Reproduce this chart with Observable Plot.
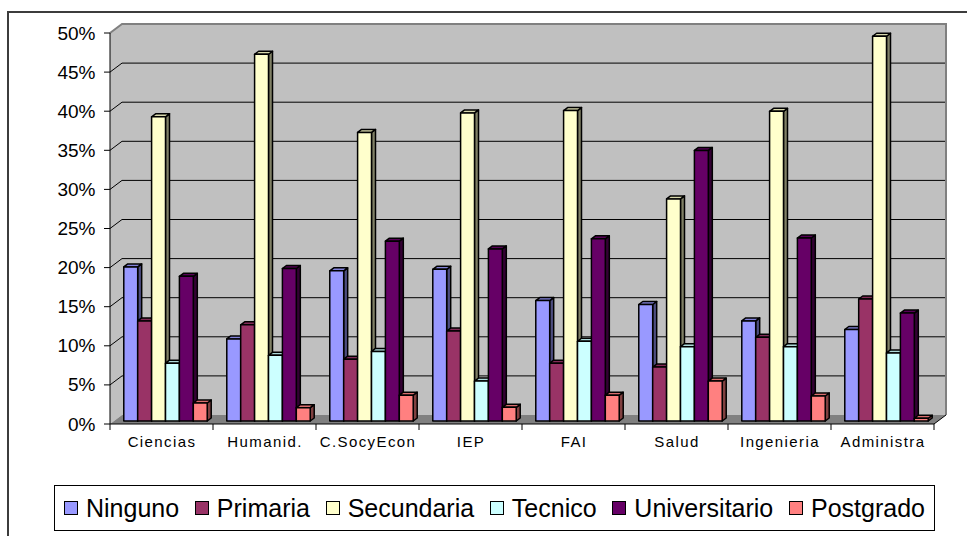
<!DOCTYPE html>
<html>
<head>
<meta charset="utf-8">
<script src="https://cdn.jsdelivr.net/npm/d3@7"></script>
<script src="https://cdn.jsdelivr.net/npm/@observablehq/plot@0.6"></script>
<style>
  body { margin: 0; background: #fff; font-family: "Liberation Sans", Arial, sans-serif; }
  #frame { position: absolute; left: 7px; top: 11px; width: 990px; height: 560px; border-left: 2px solid #3c3c3c; border-top: 2px solid #3c3c3c; }
  #chart { position: absolute; left: 0; top: 0; }
  #chart svg { display: block; }
  g[font-size="15"] text { letter-spacing: 1.4px; }
  #legend { position: absolute; left: 54px; top: 485px; width: 881px; height: 46px; box-sizing: border-box;
            border: 1px solid #000; background: #fff; display: flex; align-items: center; justify-content: space-between;
            padding: 0 9px; font-size: 25px; color: #000; }
  .item { display: flex; align-items: center; white-space: nowrap; }
  .sw { width: 12px; height: 12px; border: 1px solid #000; margin-right: 8px; }
</style>
</head>
<body>
<div id="frame"></div>
<div id="chart"></div>
<div id="legend"></div>
<script>
// ---- data (percent) ----
const categories = ["Ciencias", "Humanid.", "C.SocyEcon", "IEP", "FAI", "Salud", "Ingenieria", "Administra"];
const series = ["Ninguno", "Primaria", "Secundaria", "Tecnico", "Universitario", "Postgrado"];
const ninguno       = [19.7, 10.5, 19.2, 19.4, 15.4, 14.9, 12.8, 11.7];
const primaria      = [12.8, 12.3,  7.9, 11.5,  7.4,  6.9, 10.7, 15.6];
const secundaria    = [38.9, 46.9, 36.9, 39.4, 39.7, 28.4, 39.6, 49.2];
const tecnico       = [ 7.4,  8.4,  8.9,  5.1, 10.2,  9.5,  9.5,  8.7];
const universitario = [18.5, 19.5, 23.0, 22.0, 23.3, 34.6, 23.4, 13.8];
const postgrado     = [ 2.3,  1.7,  3.3,  1.75, 3.3,  5.1,  3.2,  0.35];
const yTicks = [0, 0.05, 0.10, 0.15, 0.20, 0.25, 0.30, 0.35, 0.40, 0.45, 0.50];
const yTickLabels = ["0%", "5%", "10%", "15%", "20%", "25%", "30%", "35%", "40%", "45%", "50%"];
const colors = ["#9999FF", "#993366", "#FFFFCC", "#CCFFFF", "#660066", "#FF8080"];

const valuesBySeries = [ninguno, primaria, secundaria, tecnico, universitario, postgrado];
const data = [];
categories.forEach((c, ci) => series.forEach((s, si) =>
  data.push({category: c, series: s, si, value: valuesBySeries[si][ci] / 100})));

// ---- 3D helpers ----
const DX = 12, DY = -9;          // full depth offset of the floor/back wall
const shade = (c, k) => { const o = d3.rgb(c); return d3.rgb(o.r * k, o.g * k, o.b * k).formatHex(); };
const poly = (pts) => "M" + pts.map(p => p.join(",")).join("L") + "Z";
const step = (x) => x(categories[1]) - x(categories[0]);

function room(index, scales) {
  const x = scales.x, y = scales.y;
  const bw = step(x);
  const x0 = x(categories[0]), x1 = x(categories[categories.length - 1]) + bw;
  const yb = y(0), yt = y(0.5);
  const g = d3.create("svg:g");
  g.append("rect").attr("x", x0 + DX).attr("y", yt + DY).attr("width", x1 - x0).attr("height", yb - yt).attr("fill", "#C0C0C0");
  g.append("path").attr("d", poly([[x0, yt], [x0 + DX, yt + DY], [x0 + DX, yb + DY], [x0, yb]])).attr("fill", "#C0C0C0");
  g.append("path").attr("d", poly([[x0, yb], [x1, yb], [x1 + DX, yb + DY], [x0 + DX, yb + DY]])).attr("fill", "#808080");
  for (const t of yTicks) {
    if (t === 0 || t === 0.5) continue;
    const yy = y(t);
    g.append("path").attr("d", `M${x0},${yy}L${x0 + DX},${yy + DY}L${x1 + DX},${yy + DY}`)
      .attr("fill", "none").attr("stroke", "#000").attr("stroke-width", 1);
  }
  g.append("path").attr("d", `M${x0},${yt}L${x0 + DX},${yt + DY}L${x1 + DX},${yt + DY}L${x1 + DX},${yb + DY}`)
    .attr("fill", "none").attr("stroke", "#808080").attr("stroke-width", 2);
  g.append("path").attr("d", `M${x1},${yb}L${x1 + DX},${yb + DY}`).attr("stroke", "#000").attr("stroke-width", 1);
  return g.node();
}

function axes(index, scales) {
  const x = scales.x, y = scales.y;
  const bw = step(x);
  const x0 = x(categories[0]), x1 = x(categories[categories.length - 1]) + bw;
  const yb = y(0), yt = y(0.5);
  const g = d3.create("svg:g").attr("stroke", "#000").attr("stroke-width", 1).attr("fill", "none");
  g.append("path").attr("d", `M${x0},${yt}L${x0},${yb}L${x1},${yb}`);
  for (const t of yTicks) g.append("path").attr("d", `M${x0 - 6},${y(t)}L${x0},${y(t)}`);
  for (let i = 0; i <= categories.length; i++) {
    const xx = x0 + i * bw;
    g.append("path").attr("d", `M${xx},${yb}L${xx},${yb + 6}`);
  }
  return g.node();
}

function bars(index, scales) {
  const x = scales.x, y = scales.y;
  const bw = step(x);
  const n = series.length;
  const w = bw * 0.81 / n;
  const fx = DX / 3, fy = DY / 3;       // bars sit at 1/3 .. 2/3 of the depth
  const g = d3.create("svg:g").attr("stroke", "#000").attr("stroke-width", 1.5).attr("stroke-linejoin", "round");
  for (const d of data) {
    const col = colors[d.si];
    const xa = x(d.category) + fx + (bw - n * w) / 2 + d.si * w, xb = xa + w;
    const ytop = y(d.value) + fy, ybase = y(0) + fy;
    g.append("path").attr("d", poly([[xb, ytop], [xb + fx, ytop + fy], [xb + fx, ybase + fy], [xb, ybase]])).attr("fill", shade(col, 0.5));
    g.append("path").attr("d", poly([[xa, ytop], [xb, ytop], [xb + fx, ytop + fy], [xa + fx, ytop + fy]])).attr("fill", shade(col, 0.85));
    g.append("rect").attr("x", xa).attr("y", ytop).attr("width", w).attr("height", ybase - ytop).attr("fill", col);
  }
  return g.node();
}

const chart = Plot.plot({
  width: 967,
  height: 480,
  marginLeft: 107,
  marginRight: 31,
  marginTop: 33,
  marginBottom: 56,
  x: {type: "band", domain: categories, padding: 0, axis: null},
  y: {domain: [0, 0.5], axis: null},
  style: {background: "transparent", fontFamily: "'Liberation Sans', Arial, sans-serif", color: "#000", overflow: "visible"},
  marks: [
    room,
    axes,
    bars,
    Plot.text(yTicks, {y: d => d, text: (d, i) => yTickLabels[i], frameAnchor: "left", textAnchor: "end", dx: -12, fontSize: 19, fill: "#000"}),
    Plot.text(categories, {x: d => d, text: d => d, frameAnchor: "bottom", dy: 22, fontSize: 15, fill: "#000"})
  ]
});
document.getElementById("chart").appendChild(chart);

const legend = document.getElementById("legend");
series.forEach((s, i) => {
  const item = document.createElement("div");
  item.className = "item";
  const sw = document.createElement("span");
  sw.className = "sw";
  sw.style.background = colors[i];
  item.appendChild(sw);
  item.appendChild(document.createTextNode(s));
  legend.appendChild(item);
});
</script>
</body>
</html>
